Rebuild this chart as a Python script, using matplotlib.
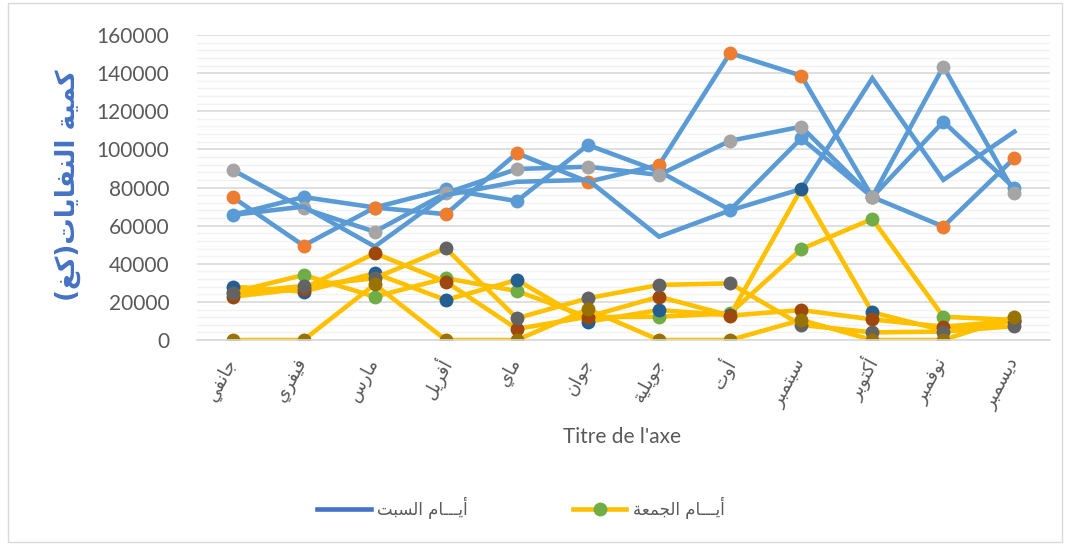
import matplotlib
matplotlib.use("Agg")
import matplotlib.pyplot as plt
from matplotlib.lines import Line2D
from matplotlib.patches import Rectangle
from matplotlib.ticker import MultipleLocator

plt.rcParams['font.family'] = ['Lato', 'DejaVu Sans']

# --- petit "reshaper" arabe (formes de présentation + ordre visuel) ---
_DUAL = {'ب': 0xFE8F, 'ت': 0xFE95, 'ث': 0xFE99, 'ج': 0xFE9D, 'ح': 0xFEA1, 'خ': 0xFEA5,
         'س': 0xFEB1, 'ش': 0xFEB5, 'ص': 0xFEB9, 'ض': 0xFEBD, 'ط': 0xFEC1, 'ظ': 0xFEC5,
         'ع': 0xFEC9, 'غ': 0xFECD, 'ف': 0xFED1, 'ق': 0xFED5, 'ك': 0xFED9, 'ل': 0xFEDD,
         'م': 0xFEE1, 'ن': 0xFEE5, 'ه': 0xFEE9, 'ي': 0xFEF1}
_RIGHT = {'آ': 0xFE81, 'أ': 0xFE83, 'إ': 0xFE87, 'ا': 0xFE8D, 'ة': 0xFE93, 'د': 0xFEA9,
          'ذ': 0xFEAB, 'ر': 0xFEAD, 'ز': 0xFEAF, 'و': 0xFEED, 'ى': 0xFEEF}
_TATWEEL = 'ـ'


def ar(s):
    out = []
    for i, c in enumerate(s):
        prev = s[i - 1] if i > 0 else ''
        nxt = s[i + 1] if i + 1 < len(s) else ''
        jp = prev in _DUAL or prev == _TATWEEL
        jn = nxt in _DUAL or nxt in _RIGHT or nxt == _TATWEEL
        if c in _DUAL:
            b = _DUAL[c]
            if jp and jn:
                out.append(chr(b + 3))
            elif jp:
                out.append(chr(b + 1))
            elif jn:
                out.append(chr(b + 2))
            else:
                out.append(chr(b))
        elif c in _RIGHT:
            out.append(chr(_RIGHT[c] + 1) if jp else chr(_RIGHT[c]))
        else:
            out.append(c)
    mirror = {'(': ')', ')': '('}
    return ''.join(mirror.get(c, c) for c in reversed(out))


# --- données ---
months = ['جانفي', 'فيفري', 'مارس', 'أفريل', 'ماي', 'جوان',
          'جويلية', 'أوت', 'سبتمبر', 'أكتوبر', 'نوفمبر', 'ديسمبر']

# séries "samedi" (lignes bleues)
sat_1 = [65600, 75000, 69500, 79000, 72900, 102300, 88500, 68200, 105800, 75000, 114500, 79700]
sat_2 = [75000, 49500, 69500, 66000, 98000, 83000, 91800, 150500, 138700, 75000, 59500, 95500]
sat_3 = [89200, 69000, 56800, 77000, 89700, 90900, 86600, 104500, 111900, 75000, 143400, 77300]
sat_4 = [65600, 70000, 49000, 76000, 83000, 84000, 54200, 68000, 79200, 137300, 84000, 109300]

# séries "vendredi" (lignes jaunes)
fri_1 = [25000, 34100, 22700, 32400, 25700, 12000, 12200, 14000, 47700, 63500, 12200, 10500]
fri_2 = [28000, 25400, 35000, 21000, 31500, 9600, 15700, 13000, 79200, 14500, 5000, 10000]
fri_3 = [22700, 27000, 45500, 30600, 5800, 12200, 22700, 12800, 15700, 10800, 7000, 10000]
fri_4 = [24800, 28300, 32400, 48100, 11400, 21900, 28900, 29700, 7900, 4000, 4400, 7300]
fri_5 = [0, 0, 29200, 0, 0, 16100, 0, 0, 10500, 0, 0, 12200]

sat_label = 'أيـــام السبت'
fri_label = 'أيـــام الجمعة'
y_title = 'كمية النفايات(كغ)'
x_title = "Titre de l'axe"

BLUE = '#5B9BD5'
YELLOW = '#FFC000'
GREY_TXT = '#595959'

fig = plt.figure(figsize=(10.7, 5.45), dpi=100)
ax = fig.add_axes([197 / 1070, 1 - 340 / 545, 853 / 1070, 305 / 545])

x = list(range(len(months)))
lw = 3.3
ms = 10

sat_series = [(sat_1, BLUE), (sat_2, '#ED7D31'), (sat_3, '#A5A5A5'), (sat_4, None)]
for vals, mcol in sat_series:
    if mcol:
        ax.plot(x, vals, color=BLUE, lw=lw, marker='o', ms=ms, mfc=mcol, mec=mcol, mew=0,
                solid_joinstyle='miter')
    else:
        ax.plot(x, vals, color=BLUE, lw=lw, solid_joinstyle='miter')

fri_series = [(fri_1, '#70AD47'), (fri_2, '#255E91'), (fri_3, '#9E480E'),
              (fri_4, '#636363'), (fri_5, '#997300')]
for vals, mcol in fri_series:
    ax.plot(x, vals, color=YELLOW, lw=lw, marker='o', ms=ms, mfc=mcol, mec=mcol, mew=0,
            solid_joinstyle='miter')

ax.set_xlim(-0.5, len(months) - 0.5)
ax.set_ylim(0, 160000)
ax.yaxis.set_major_locator(MultipleLocator(20000))
ax.yaxis.set_minor_locator(MultipleLocator(4000))
ax.grid(which='major', axis='y', color='#D9D9D9', lw=1.2)
ax.grid(which='minor', axis='y', color='#F2F2F2', lw=1.0)
ax.set_axisbelow(True)
for s in ['top', 'right', 'left']:
    ax.spines[s].set_visible(False)
ax.spines['bottom'].set_color('#D9D9D9')
ax.spines['bottom'].set_linewidth(1.2)

ax.tick_params(axis='y', which='both', length=0, labelsize=15, labelcolor=GREY_TXT, pad=20)
ax.tick_params(axis='x', length=0, pad=14)
ax.set_xticks(x)
ax.set_xticklabels([ar(m) for m in months], rotation=62, ha='right', va='center',
                   rotation_mode='anchor', fontsize=13, color=GREY_TXT,
                   family='DejaVu Sans')

fig.text(622 / 1070, 1 - 437 / 545, x_title, ha='center', va='center',
         fontsize=15, color=GREY_TXT)
fig.text(68 / 1070, 1 - 185 / 545, ar(y_title), rotation=90, ha='center', va='center',
         fontsize=19, fontweight='bold', color='#4472C4', family='DejaVu Sans')

handles = [Line2D([], [], color='#4472C4', lw=lw),
           Line2D([], [], color=YELLOW, lw=lw, marker='o', ms=ms, mfc='#70AD47',
                  mec='#70AD47', mew=0)]
fig.legend(handles, [ar(sat_label), ar(fri_label)], loc='center',
           bbox_to_anchor=(521 / 1070, 1 - 508 / 545), ncol=2, frameon=False,
           prop={'family': 'DejaVu Sans', 'size': 12}, labelcolor=GREY_TXT,
           handlelength=3.2, columnspacing=6.3, handletextpad=0.4)

fig.patches.append(Rectangle((8 / 1070, 3 / 545), 1054 / 1070, 539 / 545,
                             transform=fig.transFigure, fill=False,
                             edgecolor='#D9D9D9', lw=1))

fig.savefig('out.png', dpi=100)
